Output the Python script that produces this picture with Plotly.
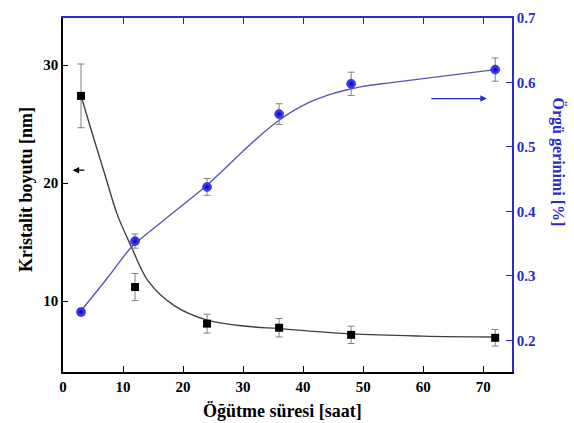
import plotly.graph_objects as go

# Milling time [h]
milling_time = [3, 12, 24, 36, 48, 72]

# Crystallite size [nm] with errors
crystallite_size = [27.4, 11.2, 8.1, 7.75, 7.15, 6.9]
crystallite_err = [2.7, 1.15, 0.8, 0.78, 0.73, 0.7]

# Lattice strain [%] with errors
lattice_strain = [0.244, 0.354, 0.438, 0.551, 0.598, 0.620]
strain_err = [0.005, 0.011, 0.013, 0.016, 0.018, 0.018]

# Fitted trend lines (sampled)
size_fit_x = [3, 5, 7, 9, 11.4, 14.2, 18.6, 24, 31, 36, 48, 60, 72]
size_fit_y = [27.4, 24.0, 20.7, 17.4, 14.6, 11.7, 9.6, 8.4, 7.85, 7.68, 7.23, 7.04, 6.96]

strain_fit_x = [3, 7.5, 11.4, 17, 23.8, 30.5, 33, 35.5, 38, 41, 44, 47, 50, 54, 60, 66, 72]
strain_fit_y = [0.246, 0.298, 0.345, 0.388, 0.439, 0.498, 0.519, 0.538, 0.554, 0.569,
                0.580, 0.588, 0.594, 0.599, 0.606, 0.613, 0.620]

x_ticks = [0, 10, 20, 30, 40, 50, 60, 70]
left_ticks = [10, 20, 30]
right_ticks = [0.2, 0.3, 0.4, 0.5, 0.6, 0.7]

BLUE = "#2b2bc8"
LINE_BLUE = "#5858b8"
FONT = "Times New Roman, Liberation Serif, serif"

fig = go.Figure()

fig.add_trace(go.Scatter(
    x=size_fit_x, y=size_fit_y, mode="lines",
    line=dict(color="#404040", width=1.4, shape="spline", smoothing=1.0),
    hoverinfo="skip", showlegend=False,
))
fig.add_trace(go.Scatter(
    x=strain_fit_x, y=strain_fit_y, mode="lines", yaxis="y2",
    line=dict(color=LINE_BLUE, width=1.4, shape="spline", smoothing=0.5),
    hoverinfo="skip", showlegend=False,
))
fig.add_trace(go.Scatter(
    x=milling_time, y=crystallite_size, mode="markers",
    marker=dict(symbol="square", size=8, color="black"),
    error_y=dict(type="data", array=crystallite_err, color="#808080", thickness=1, width=3.5),
    showlegend=False,
))
fig.add_trace(go.Scatter(
    x=milling_time, y=lattice_strain, mode="markers", yaxis="y2",
    marker=dict(size=9, color="#5050ff",
                gradient=dict(type="radial", color="#0000c0"),
                line=dict(width=0.5, color="#0000a0")),
    error_y=dict(type="data", array=strain_err, color="#808080", thickness=1, width=3.5),
    showlegend=False,
))
# Anchor trace for the top axis
fig.add_trace(go.Scatter(x=[None], y=[None], xaxis="x2", showlegend=False, hoverinfo="skip"))

tick_font = dict(family=FONT, size=15, color="black")

fig.update_layout(
    width=574, height=423,
    margin=dict(l=63, r=62, t=10, b=51),
    paper_bgcolor="white", plot_bgcolor="white",
    xaxis=dict(
        range=[0, 74.8], tickvals=x_ticks, ticktext=[f"<b>{v}</b>" for v in x_ticks],
        ticks="inside", ticklen=6,
        tickcolor="black", showline=True, linecolor="black", linewidth=1.5,
        showgrid=False, zeroline=False, tickfont=tick_font,
    ),
    xaxis2=dict(
        range=[0, 74.8], overlaying="x", side="top", anchor="y",
        tickvals=x_ticks[1:], ticks="inside", ticklen=6, tickcolor=BLUE,
        showline=True, linecolor=BLUE, linewidth=1.5,
        showticklabels=False, showgrid=False, zeroline=False,
    ),
    yaxis=dict(
        range=[4.0, 34.0], tickvals=left_ticks, ticktext=[f"<b>{v}</b>" for v in left_ticks],
        ticks="inside", ticklen=5,
        tickcolor="black", showline=True, linecolor="black", linewidth=1.5,
        showgrid=False, zeroline=False, tickfont=tick_font,
    ),
    yaxis2=dict(
        range=[0.151, 0.7], overlaying="y", side="right",
        tickvals=right_ticks, ticktext=[f"<b>{v:.1f}</b>" for v in right_ticks],
        ticks="inside", ticklen=6, tickcolor=BLUE,
        showline=True, linecolor=BLUE, linewidth=1.5,
        showgrid=False, zeroline=False,
        tickfont=dict(family=FONT, size=15, color=BLUE),
    ),
    annotations=[
        dict(text="<b>Kristalit boyutu [nm]</b>", xref="paper", yref="paper",
             x=-0.084, y=0.515, xanchor="center", yanchor="middle",
             textangle=-90, showarrow=False,
             font=dict(family=FONT, size=18, color="black")),
        dict(text="<b>Örgü gerinimi [%]</b>", xref="paper", yref="paper",
             x=1.103, y=0.594, xanchor="center", yanchor="middle",
             textangle=90, showarrow=False,
             font=dict(family=FONT, size=16, color=BLUE)),
        dict(text="<b>Öğütme süresi [saat]</b>", xref="paper", yref="paper",
             x=0.488, y=-0.109, xanchor="center", yanchor="middle", showarrow=False,
             font=dict(family=FONT, size=18, color="black")),
        # arrow pointing at the left axis
        dict(x=1.6, y=21.1, ax=3.8, ay=21.1, xref="x", yref="y", axref="x", ayref="y",
             text="", showarrow=True, arrowhead=2, arrowsize=1.0, arrowwidth=1.3,
             arrowcolor="black"),
        # arrow pointing at the right axis
        dict(x=70.6, y=0.575, ax=61.1, ay=0.575, xref="x", yref="y2", axref="x", ayref="y2",
             text="", showarrow=True, arrowhead=2, arrowsize=1.0, arrowwidth=1.3,
             arrowcolor=BLUE),
    ],
)

fig.write_html("out.html")
